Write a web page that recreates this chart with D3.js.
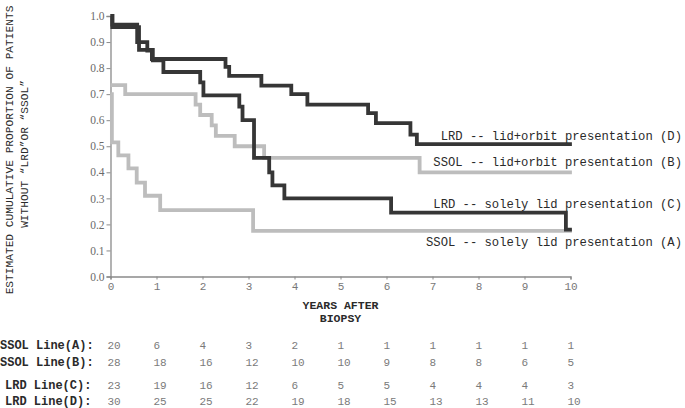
<!DOCTYPE html>
<html>
<head>
<meta charset="utf-8">
<script src="https://cdn.jsdelivr.net/npm/d3@7"></script>
<style>
  html, body { margin: 0; padding: 0; background: #fff; }
  svg { display: block; }
</style>
</head>
<body>
<svg id="chart" width="685" height="408"></svg>
<script>
// ---------------- DATA ----------------
const xTicks = [0, 1, 2, 3, 4, 5, 6, 7, 8, 9, 10];
const yTicks = [0.0, 0.1, 0.2, 0.3, 0.4, 0.5, 0.6, 0.7, 0.8, 0.9, 1.0];

// Kaplan-Meier step points [years, proportion]
const curveA = [[0, 0.70], [0.03, 0.515], [0.17, 0.465], [0.39, 0.415], [0.57, 0.36], [0.75, 0.31], [1.08, 0.255], [3.1, 0.175], [10.03, 0.175]];
const curveB = [[0, 0.735], [0.32, 0.70], [1.85, 0.66], [1.95, 0.62], [2.2, 0.58], [2.29, 0.54], [2.7, 0.50], [3.34, 0.455], [6.72, 0.40], [10.03, 0.40]];
const curveC = [[0, 1.0], [0.04, 0.957], [0.62, 0.87], [0.92, 0.83], [1.15, 0.785], [1.95, 0.745], [2.02, 0.695], [2.8, 0.652], [2.87, 0.60], [3.12, 0.455], [3.45, 0.40], [3.52, 0.35], [3.78, 0.30], [6.1, 0.245], [9.9, 0.18], [10.03, 0.18]];
const curveD = [[0, 1.0], [0.04, 0.967], [0.58, 0.90], [0.8, 0.867], [0.9, 0.835], [2.5, 0.805], [2.58, 0.77], [3.28, 0.733], [3.93, 0.70], [4.28, 0.66], [5.6, 0.627], [5.77, 0.589], [6.52, 0.545], [6.66, 0.508], [10.03, 0.508]];

const labelA = "SSOL -- solely lid presentation (A)";
const labelB = "SSOL -- lid+orbit presentation (B)";
const labelC = "LRD -- solely lid presentation (C)";
const labelD = "LRD -- lid+orbit presentation (D)";

const rowNames = ["SSOL Line(A):", "SSOL Line(B):", "LRD Line(C):", "LRD Line(D):"];
const atRiskA = [20, 6, 4, 3, 2, 1, 1, 1, 1, 1, 1];
const atRiskB = [28, 18, 16, 12, 10, 10, 9, 8, 8, 6, 5];
const atRiskC = [23, 19, 16, 12, 6, 5, 5, 4, 4, 4, 3];
const atRiskD = [30, 25, 25, 22, 19, 18, 15, 13, 13, 11, 10];

const yTitle1 = "ESTIMATED CUMULATIVE PROPORTION OF PATIENTS";
const yTitle2 = "WITHOUT \u201CLRD\u201DOR \u201CSSOL\u201D";
const xTitle1 = "YEARS AFTER";
const xTitle2 = "BIOPSY";

// ---------------- DRAW ----------------
const svg = d3.select("#chart");
const mono = "'Liberation Mono', 'Courier New', monospace";
const serif = "'Liberation Serif', 'Times New Roman', serif";

const x = d3.scaleLinear().domain([0, 10]).range([110.5, 570.5]);
const y = d3.scaleLinear().domain([0, 1]).range([276.5, 16]);

// Y axis
const yAxis = d3.axisLeft(y).tickValues(yTicks).tickSize(4).tickFormat(d3.format(".1f"));
const gy = svg.append("g").attr("transform", `translate(${x(0)},0)`).call(yAxis);
gy.select(".domain").attr("stroke", "#8a8a8a").attr("stroke-width", 1.3);
gy.selectAll(".tick line").attr("stroke", "#8a8a8a");
gy.selectAll(".tick text").attr("font-family", serif).attr("font-size", 11.5).attr("fill", "#6a6a6a").attr("x", -6);

// X axis
const xAxis = d3.axisBottom(x).tickValues(xTicks).tickSize(3).tickFormat(d3.format("d"));
const gx = svg.append("g").attr("transform", `translate(0,${y(0)})`).call(xAxis);
gx.select(".domain").attr("stroke", "#8a8a8a").attr("stroke-width", 1.3);
gx.selectAll(".tick line").attr("stroke", "#8a8a8a");
gx.selectAll(".tick text").attr("font-family", mono).attr("font-size", 11).attr("fill", "#777").attr("y", 6);

// Curves
const line = d3.line().x(d => x(d[0])).y(d => y(d[1])).curve(d3.curveStepAfter);
const series = [
  { data: curveA, color: "#bdbdbd" },
  { data: curveB, color: "#bdbdbd" },
  { data: curveC, color: "#363636" },
  { data: curveD, color: "#363636" }
];
svg.append("g").selectAll("path").data(series).join("path")
  .attr("d", d => line(d.data))
  .attr("fill", "none")
  .attr("stroke", d => d.color)
  .attr("stroke-width", 3.8)
  .attr("stroke-linejoin", "miter");

// Curve labels
const labels = [
  { t: labelD, yy: 140 },
  { t: labelB, yy: 166 },
  { t: labelC, yy: 208 },
  { t: labelA, yy: 246 }
];
svg.append("g").selectAll("text").data(labels).join("text")
  .attr("x", 682).attr("y", d => d.yy)
  .attr("text-anchor", "end")
  .attr("font-family", mono).attr("font-size", 12.2)
  .attr("fill", "#2a2a2a")
  .text(d => d.t);

// Y title
const yt = svg.append("g").attr("font-family", mono).attr("font-size", 11.2).attr("fill", "#2a2a2a").attr("text-anchor", "middle");
yt.append("text").attr("transform", "translate(13,150) rotate(-90)").text(yTitle1);
yt.append("text").attr("transform", "translate(28,154) rotate(-90)").text(yTitle2);

// X title
const xt = svg.append("g").attr("font-family", mono).attr("font-size", 11.5).attr("font-weight", "bold").attr("fill", "#2a2a2a").attr("text-anchor", "middle");
xt.append("text").attr("x", x(5)).attr("y", 309).text(xTitle1);
xt.append("text").attr("x", x(5)).attr("y", 322).text(xTitle2);

// At-risk table
const rows = [
  { name: rowNames[0], vals: atRiskA, yy: 349, nx: 0 },
  { name: rowNames[1], vals: atRiskB, yy: 366, nx: 0 },
  { name: rowNames[2], vals: atRiskC, yy: 389, nx: 5 },
  { name: rowNames[3], vals: atRiskD, yy: 405, nx: 5 }
];
const tg = svg.append("g");
rows.forEach(r => {
  tg.append("text").attr("x", r.nx).attr("y", r.yy)
    .attr("font-family", mono).attr("font-size", 12).attr("font-weight", "bold").attr("fill", "#2a2a2a")
    .text(r.name);
  tg.append("g").selectAll("text").data(r.vals).join("text")
    .attr("x", (d, i) => x(xTicks[i]) - 3).attr("y", r.yy)
    .attr("font-family", mono).attr("font-size", 11).attr("fill", "#7a7a7a")
    .text(d => d);
});
</script>
</body>
</html>
